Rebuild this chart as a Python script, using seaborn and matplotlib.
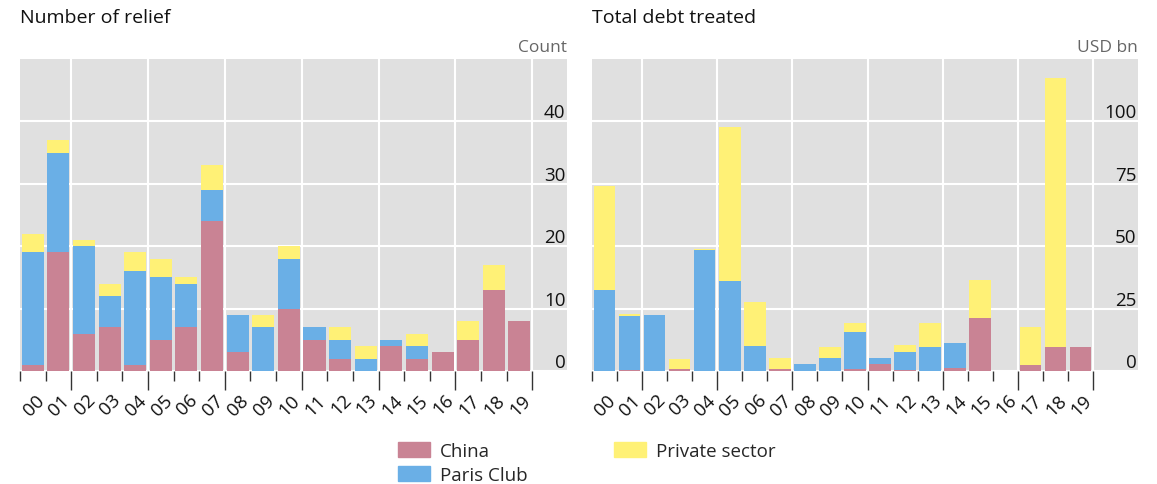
import numpy as np
import matplotlib
matplotlib.use("Agg")
import matplotlib.pyplot as plt
import matplotlib.transforms as mtransforms
import seaborn as sns

# data
years = ['00', '01', '02', '03', '04', '05', '06', '07', '08', '09',
         '10', '11', '12', '13', '14', '15', '16', '17', '18', '19']

relief_china = [1, 19, 6, 7, 1, 5, 7, 24, 3, 0, 10, 5, 2, 0, 4, 2, 3, 5, 13, 8]
relief_paris = [18, 16, 14, 5, 15, 10, 7, 5, 6, 7, 8, 2, 3, 2, 1, 2, 0, 0, 0, 0]
relief_private = [3, 2, 1, 2, 3, 3, 1, 4, 0, 2, 2, 0, 2, 2, 0, 2, 0, 3, 4, 0]

debt_china = [0.0, 0.5, 0.0, 0.9, 0.0, 0.0, 0.0, 0.9, 0.0, 0.0,
              0.9, 2.9, 0.3, 0.0, 1.2, 21.1, 0.0, 2.3, 9.6, 9.6]
debt_paris = [32.5, 21.7, 22.4, 0.0, 48.5, 35.9, 10.0, 0.0, 2.9, 5.2,
              14.9, 2.4, 7.5, 9.7, 10.0, 0.0, 0.0, 0.0, 0.0, 0.0]
debt_private = [41.5, 0.8, 0.0, 4.0, 0.5, 61.8, 17.8, 4.4, 0.0, 4.4,
                3.3, 0.0, 2.8, 9.7, 0.0, 15.3, 0.0, 15.5, 107.9, 0.0]

c_china = '#C98394'
c_paris = '#6AAFE6'
c_private = '#FFF176'

sns.set_style("darkgrid", {"axes.facecolor": "#E0E0E0", "grid.color": "white"})
plt.rcParams['font.family'] = ['Open Sans', 'DejaVu Sans']

fig = plt.figure(figsize=(11.57, 4.85), dpi=100)
W, H = 1157, 485
ax1 = fig.add_axes([20 / W, 1 - 372 / H, 547 / W, 312 / H])
ax2 = fig.add_axes([592 / W, 1 - 372 / H, 546 / W, 312 / H])


def stacked(ax, china, paris, private, ymax, yticks, xmax, unit, title):
    china = np.array(china)
    low = china + np.array(paris)
    top = low + np.array(private)
    # draw tallest first so the stack shows through
    sns.barplot(x=years, y=top, color=c_private, saturation=1, width=0.86, linewidth=0, ax=ax)
    sns.barplot(x=years, y=low, color=c_paris, saturation=1, width=0.86, linewidth=0, ax=ax)
    sns.barplot(x=years, y=china, color=c_china, saturation=1, width=0.86, linewidth=0, ax=ax)
    ax.set_axisbelow(True)
    ax.set_xlim(-0.5, xmax)
    ax.set_ylim(0, ymax)
    for s in ax.spines.values():
        s.set_visible(False)

    # x: long ticks + grid every 3 bars, short ticks at each bar edge
    ax.set_xticks(np.arange(1.5, 20, 3))
    ax.set_xticklabels([])
    ax.set_xticks(np.arange(-0.5, 20, 1), minor=True)
    ax.tick_params(axis='x', which='major', length=14, width=1, color='#333333', bottom=True)
    ax.tick_params(axis='x', which='minor', length=7, width=1, color='#333333', bottom=True)
    ax.grid(True, axis='x', which='major', color='white', linewidth=1.5)
    ax.grid(True, axis='y', color='white', linewidth=1.5)
    ax.set_xlabel('')

    sec = ax.secondary_xaxis('bottom')
    sec.set_xticks(range(len(years)), labels=years)
    sec.tick_params(length=0, pad=14, labelsize=13.5, labelcolor='#111111')
    sec.spines['bottom'].set_visible(False)
    shift = mtransforms.ScaledTranslation(2 / 100, 0, fig.dpi_scale_trans)
    for lab in sec.get_xticklabels():
        lab.set_rotation(45)
        lab.set_ha('right')
        lab.set_va('top')
        lab.set_rotation_mode('anchor')
        lab.set_transform(lab.get_transform() + shift)

    # y labels inside on the right, sitting on the grid lines
    ax.yaxis.tick_right()
    ax.set_yticks(yticks)
    ax.set_yticklabels([str(t) for t in yticks])
    ax.tick_params(axis='y', length=0, pad=-1, labelsize=13.5, labelcolor='#111111')
    for lab in ax.get_yticklabels():
        lab.set_ha('right')
        lab.set_va('bottom')
    ax.set_ylabel('')

    ax.text(1, 1.012, unit, transform=ax.transAxes, ha='right', va='bottom',
            fontsize=12.5, color='#666666')
    x0 = ax.get_position().x0
    fig.text(x0, 1 - 18 / H, title, ha='left', va='center', fontsize=14, color='#111111')


stacked(ax1, relief_china, relief_paris, relief_private, 50, [0, 10, 20, 30, 40], 20.86,
        'Count', 'Number of relief')
stacked(ax2, debt_china, debt_paris, debt_private, 125, [0, 25, 50, 75, 100], 21.3,
        'USD bn', 'Total debt treated')

handles = [plt.Rectangle((0, 0), 1, 1, color=c) for c in [c_china, c_paris, c_private]]
fig.legend(handles, ['China', 'Paris Club', 'Private sector'], ncol=2,
           loc='upper left', bbox_to_anchor=(398 / W, 1 - 443 / H), frameon=False,
           fontsize=13.5, handlelength=1.7, handleheight=0.8, handletextpad=0.55,
           columnspacing=4.6, labelspacing=0.32, borderpad=0, borderaxespad=0)

fig.savefig('out.png', dpi=100)
